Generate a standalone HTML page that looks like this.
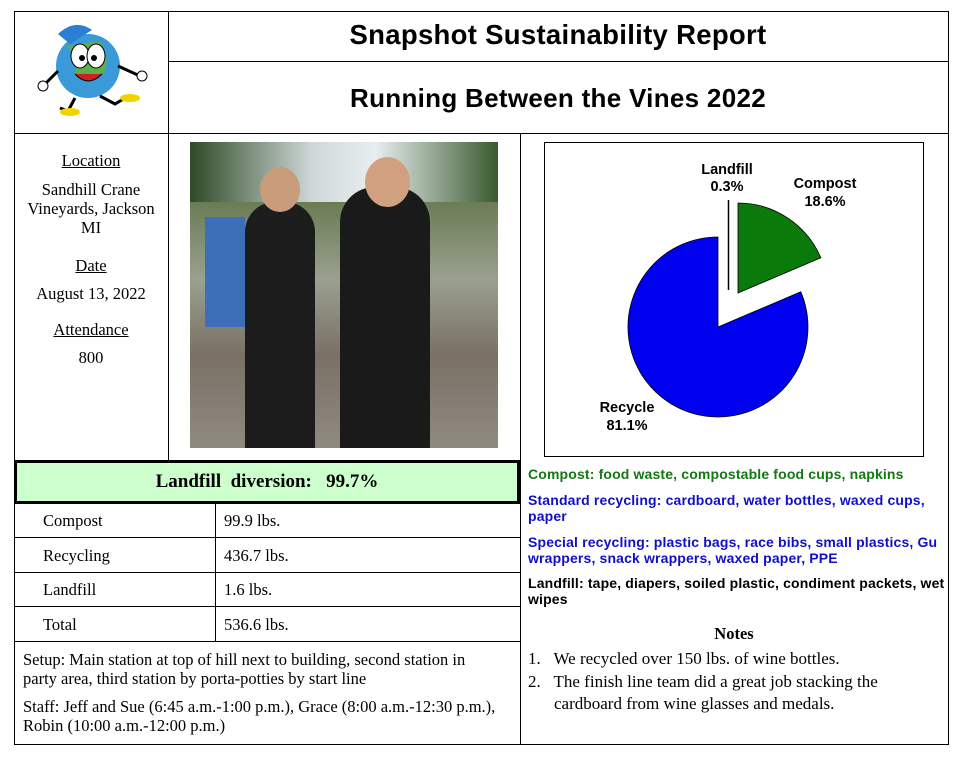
<!DOCTYPE html>
<html><head><style>
body{margin:0;width:963px;height:758px;background:#fff;position:relative;overflow:hidden;font-family:"Liberation Serif",serif;color:#000}
.a{position:absolute}
.ln{position:absolute;background:#000}
.s{font-family:"Liberation Sans",sans-serif;font-weight:bold;font-size:14px;line-height:16px;letter-spacing:0.15px}
.t{font-size:16.5px}
</style></head><body>
<div class="ln" style="left:14px;top:11px;width:935px;height:1px"></div>
<div class="ln" style="left:168px;top:61px;width:781px;height:1px"></div>
<div class="ln" style="left:14px;top:133px;width:935px;height:1px"></div>
<div class="ln" style="left:14px;top:11px;width:1px;height:734px"></div>
<div class="ln" style="left:948px;top:11px;width:1px;height:734px"></div>
<div class="ln" style="left:168px;top:11px;width:1px;height:449px"></div>
<div class="ln" style="left:520px;top:133px;width:1px;height:612px"></div>
<div class="ln" style="left:14px;top:744px;width:935px;height:1px"></div>
<div class="a s" style="left:168px;top:20px;width:780px;text-align:center;font-size:27.5px;line-height:30px;letter-spacing:0.3px">Snapshot Sustainability Report</div>
<div class="a s" style="left:168px;top:83px;width:780px;text-align:center;font-size:26px;line-height:30px;letter-spacing:0.3px">Running Between the Vines 2022</div>
<svg class="a" style="left:30px;top:16px" width="125" height="105">
<circle cx="58" cy="50" r="32" fill="#3a9ad9"/>
<path d="M36 30 Q50 40 45 60 Q60 70 75 55 Q80 40 70 25 Z" fill="#5bb04a"/>
<ellipse cx="50" cy="40" rx="9" ry="12" fill="#fff" stroke="#000"/><ellipse cx="66" cy="40" rx="9" ry="12" fill="#fff" stroke="#000"/>
<circle cx="52" cy="42" r="3"/><circle cx="64" cy="42" r="3"/>
<path d="M45 58 Q58 72 72 58" fill="#c22" stroke="#000"/>
<path d="M28 18 Q45 2 62 14 L40 28 Z" fill="#2a7fd0"/>
<path d="M45 82 L38 95 L30 92" stroke="#000" stroke-width="3" fill="none"/><ellipse cx="40" cy="96" rx="10" ry="4" fill="#f2d200"/>
<path d="M70 80 L85 88 L95 82" stroke="#000" stroke-width="3" fill="none"/><ellipse cx="100" cy="82" rx="10" ry="4" fill="#f2d200"/>
<path d="M88 50 L110 60" stroke="#000" stroke-width="3"/><circle cx="112" cy="60" r="5" fill="#fff" stroke="#000"/>
<path d="M28 55 L15 68" stroke="#000" stroke-width="3"/><circle cx="13" cy="70" r="5" fill="#fff" stroke="#000"/>
</svg>
<div class="a t" style="left:20px;top:151px;width:142px;text-align:center;line-height:19px">
<u>Location</u><div style="margin-top:10px">Sandhill Crane Vineyards, Jackson MI</div>
<div style="margin-top:19px"><u>Date</u></div><div style="margin-top:9px">August 13, 2022</div>
<div style="margin-top:17px"><u>Attendance</u></div><div style="margin-top:9px">800</div></div>
<div class="a" style="left:190px;top:142px;width:308px;height:306px;background:linear-gradient(180deg,#3d5a2c 0%,#6b7d55 20%,#9aa08f 45%,#7a7066 70%,#8f8a80 100%)">
<div class="a" style="left:0;top:0;width:308px;height:60px;background:linear-gradient(90deg,#2f4a26,#cfd8d8 40%,#e8eef0 60%,#3a5a2e)"></div>
<div class="a" style="left:55px;top:60px;width:70px;height:246px;background:#1c1c1c;border-radius:30px 30px 0 0"></div>
<div class="a" style="left:150px;top:45px;width:90px;height:261px;background:#1a1a1a;border-radius:35px 35px 0 0"></div>
<div class="a" style="left:70px;top:25px;width:40px;height:45px;background:#c89b7a;border-radius:50%"></div>
<div class="a" style="left:175px;top:15px;width:45px;height:50px;background:#d0a080;border-radius:50%"></div>
<div class="a" style="left:15px;top:75px;width:40px;height:110px;background:#3d6fb8"></div>
</div>
<div class="a" style="left:544px;top:142px;width:378px;height:313px;border:1px solid #000"></div>
<svg class="a" style="left:0;top:0" width="963" height="758">
<path d="M718,327 L800.8,291.8 A90,90 0 1,1 718,237 Z" fill="#0000f0" stroke="#000" stroke-width="0.8"/>
<path d="M738,293 L738,203 A90,90 0 0,1 820.8,257.8 Z" fill="#0a7a0a" stroke="#000" stroke-width="0.8"/>
<line x1="728.5" y1="200" x2="728.5" y2="290" stroke="#000" stroke-width="1.5"/>
<g font-family="Liberation Sans" font-weight="bold" font-size="14.5" text-anchor="middle">
<text x="727" y="174">Landfill</text><text x="727" y="191">0.3%</text>
<text x="825" y="188">Compost</text><text x="825" y="206">18.6%</text>
<text x="627" y="412">Recycle</text><text x="627" y="430">81.1%</text></g>
</svg>
<div class="a s" style="left:528px;top:466px;width:418px;color:#127812">Compost: food waste, compostable food cups, napkins</div>
<div class="a s" style="left:528px;top:492px;width:400px;color:#1010c8">Standard recycling: cardboard, water bottles, waxed cups, paper</div>
<div class="a s" style="left:528px;top:534px;width:418px;color:#1010c8">Special recycling: plastic bags, race bibs, small plastics, Gu wrappers, snack wrappers, waxed paper, PPE</div>
<div class="a s" style="left:528px;top:575px;width:418px">Landfill: tape, diapers, soiled plastic, condiment packets, wet wipes</div>
<div class="a t" style="left:520px;top:624px;width:428px;text-align:center;font-weight:bold">Notes</div>
<div class="a" style="left:528px;top:648px;width:415px;line-height:22px;font-size:17px">
<div>1.&nbsp;&nbsp;&nbsp;We recycled over 150 lbs. of wine bottles.</div>
<div style="padding-left:26px;text-indent:-26px;line-height:22px;margin-top:1px;width:360px">2.&nbsp;&nbsp;&nbsp;The finish line team did a great job stacking the cardboard from wine glasses and medals.</div></div>
<div class="a" style="left:14px;top:460px;width:500px;height:38px;background:#ccffcc;border:3px solid #000;text-align:center;font-weight:bold;font-size:19px;line-height:38px">Landfill&nbsp; diversion:&nbsp;&nbsp; 99.7%</div>
<div class="ln" style="left:215px;top:502px;width:1px;height:139px"></div>
<div class="ln" style="left:14px;top:537px;width:506px;height:1px"></div>
<div class="ln" style="left:14px;top:572px;width:506px;height:1px"></div>
<div class="ln" style="left:14px;top:606px;width:506px;height:1px"></div>
<div class="ln" style="left:14px;top:641px;width:506px;height:1px"></div>
<div class="a t" style="left:43px;top:511px">Compost</div><div class="a t" style="left:224px;top:511px">99.9 lbs.</div>
<div class="a t" style="left:43px;top:546px">Recycling</div><div class="a t" style="left:224px;top:546px">436.7 lbs.</div>
<div class="a t" style="left:43px;top:580px">Landfill</div><div class="a t" style="left:224px;top:580px">1.6 lbs.</div>
<div class="a t" style="left:43px;top:615px">Total</div><div class="a t" style="left:224px;top:615px">536.6 lbs.</div>
<div class="a" style="left:23px;top:650px;width:470px;line-height:19px;font-size:16.5px">Setup: Main station at top of hill next to building, second station in party area, third station by porta-potties by start line
<div style="margin-top:9px;width:494px">Staff: Jeff and Sue (6:45 a.m.-1:00 p.m.), Grace (8:00 a.m.-12:30 p.m.), Robin (10:00 a.m.-12:00 p.m.)</div></div>
</body></html>
